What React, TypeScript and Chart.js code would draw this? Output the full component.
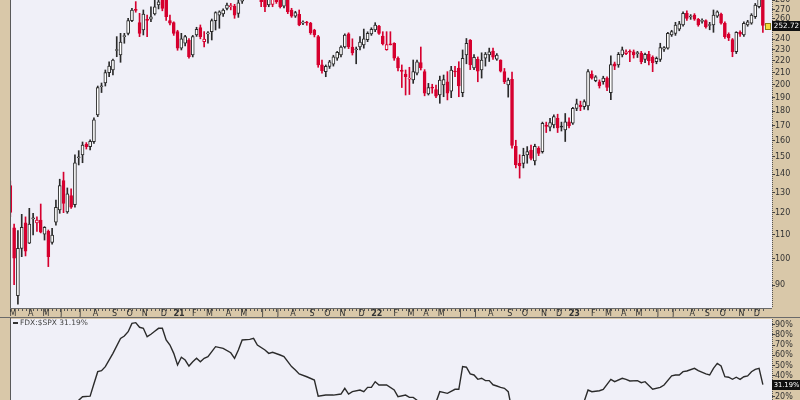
import React, { useEffect, useRef } from "react";
import { Chart, registerables } from "chart.js";

Chart.register(...registerables);

// ---------- data ----------
const FIRST_WEEK_UTC = Date.UTC(2020, 2, 2); // week of 2 Mar 2020

const opens = [
  133.5, 112.9, 86.1, 104.0, 115.1, 106.2, 117.0, 115.1, 116.4, 110.0,
  111.3, 106.5, 115.4, 121.2, 136.2, 120.3, 128.3, 123.8, 149.2, 150.9,
  157.5, 156.0, 159.1, 177.0, 198.0, 201.0, 209.5, 211.7, 228.8, 224.7,
  241.8, 245.0, 257.7, 269.5, 255.6, 248.3, 259.0, 259.1, 264.6, 274.3,
  290.0, 280.0, 257.7, 255.6, 246.6, 230.9, 235.5, 238.6, 224.7, 243.4,
  250.8, 237.0, 244.5, 246.6, 257.7, 263.5, 264.6, 270.7, 272.5, 273.0,
  265.3, 278.5, 289.0, 296.0, 302.0, 298.0, 290.0, 288.0, 274.3, 275.0,
  285.0, 286.0, 273.0, 285.0, 268.9, 262.4, 264.2, 255.2, 256.3, 255.0,
  248.3, 241.8, 216.0, 210.3, 214.8, 216.7, 221.8, 224.7, 232.0, 244.4,
  232.0, 229.5, 232.0, 233.9, 239.0, 244.4, 248.3, 252.2, 242.3, 229.5,
  234.6, 235.5, 221.8, 211.6, 208.3, 204.0, 203.4, 209.0, 218.0, 210.3,
  192.4, 197.8, 195.8, 191.6, 199.4, 202.0, 194.6, 210.8, 213.4, 193.5,
  224.7, 238.6, 213.4, 220.9, 211.7, 221.8, 224.7, 228.3, 221.0, 220.3,
  210.3, 199.4, 204.0, 156.2, 146.0, 145.9, 150.9, 153.9, 147.3, 154.9,
  152.9, 170.0, 168.6, 170.0, 174.6, 169.3, 166.7, 172.2, 171.2, 181.7,
  184.0, 183.0, 183.5, 208.3, 202.8, 202.0, 202.0, 205.0, 193.5, 217.0,
  216.0, 224.7, 226.0, 228.0, 227.7, 226.0, 226.5, 220.9, 225.6, 222.7,
  218.8, 220.9, 230.0, 230.9, 243.4, 245.0, 249.0, 253.3, 265.3, 261.5,
  263.5, 259.1, 257.0, 257.7, 252.8, 253.3, 262.4, 264.6, 255.0, 244.0,
  239.0, 227.7, 246.0, 243.4, 253.3, 255.0, 261.7, 272.4, 287.0,
];

const highs = [
  136.0, 114.6, 111.6, 119.1, 117.9, 122.0, 119.6, 117.9, 124.1, 113.4,
  111.9, 112.6, 126.1, 137.0, 140.9, 132.3, 131.8, 151.0, 153.5, 158.9,
  158.5, 160.2, 175.0, 198.6, 201.0, 211.7, 218.8, 221.0, 241.8, 245.0,
  245.0, 260.1, 270.7, 278.0, 265.3, 268.9, 263.5, 272.4, 282.0, 283.0,
  295.0, 288.0, 263.5, 256.5, 248.0, 245.0, 243.0, 240.0, 243.0, 251.0,
  253.3, 246.6, 246.6, 259.4, 267.0, 268.0, 270.0, 276.5, 276.0, 275.0,
  281.0, 292.0, 300.0, 306.0, 307.0, 303.0, 296.0, 290.0, 288.0, 286.0,
  288.0, 288.0, 285.0, 287.0, 270.7, 267.5, 268.9, 257.5, 257.0, 256.0,
  249.0, 243.0, 220.3, 216.0, 220.0, 224.5, 228.0, 233.0, 244.5, 245.5,
  239.7, 232.0, 241.8, 249.2, 246.5, 250.5, 255.6, 253.0, 246.6, 246.6,
  246.6, 236.0, 223.0, 216.0, 211.7, 214.0, 220.3, 220.3, 232.0, 212.0,
  200.7, 200.0, 199.4, 206.6, 207.5, 210.3, 214.8, 214.8, 218.8, 229.3,
  240.0, 239.0, 225.0, 223.0, 226.7, 227.0, 231.0, 231.0, 226.0, 220.5,
  213.0, 205.0, 210.0, 160.0, 151.0, 155.0, 156.0, 157.0, 157.5, 156.0,
  172.0, 172.0, 174.6, 177.0, 177.5, 172.0, 178.0, 175.0, 182.5, 188.5,
  187.0, 188.0, 212.0, 211.0, 207.0, 203.5, 206.5, 206.0, 224.0, 218.5,
  227.0, 232.0, 229.5, 229.3, 229.3, 228.0, 228.0, 226.5, 228.0, 224.0,
  223.0, 235.5, 232.5, 246.0, 248.0, 256.0, 257.0, 267.0, 268.0, 264.0,
  265.0, 260.0, 259.5, 258.5, 256.0, 268.9, 268.0, 265.5, 256.5, 245.5,
  240.0, 246.6, 247.5, 256.5, 258.0, 265.0, 276.0, 285.0, 290.0,
];

const lows = [
  118.0, 90.0, 83.3, 100.6, 100.9, 106.0, 109.7, 111.3, 110.6, 107.5,
  96.7, 105.8, 114.1, 119.6, 119.9, 119.6, 122.0, 122.6, 145.0, 146.3,
  154.5, 153.9, 158.0, 175.8, 193.5, 198.6, 206.1, 207.5, 223.2, 218.3,
  235.5, 243.4, 256.6, 266.5, 241.8, 243.4, 241.8, 256.6, 263.5, 270.0,
  268.0, 258.0, 253.3, 243.0, 229.0, 229.3, 233.0, 222.0, 223.0, 242.0,
  239.7, 232.0, 235.5, 238.6, 248.3, 250.0, 262.0, 268.9, 269.0, 260.1,
  261.1, 276.0, 286.0, 292.0, 294.0, 289.0, 272.4, 267.0, 272.4, 272.4,
  276.0, 271.0, 271.0, 265.0, 261.1, 261.0, 252.5, 253.5, 253.0, 244.0,
  241.5, 214.0, 209.0, 206.1, 213.0, 215.0, 220.0, 223.0, 231.0, 230.5,
  224.7, 217.0, 229.3, 230.9, 237.0, 243.0, 246.6, 244.0, 233.9, 229.0,
  233.9, 220.0, 211.0, 197.4, 191.6, 192.0, 200.7, 207.5, 211.7, 191.0,
  191.6, 193.0, 189.6, 185.4, 190.3, 187.9, 189.6, 206.1, 190.3, 190.3,
  217.0, 212.0, 212.0, 202.0, 205.0, 215.0, 219.0, 220.8, 220.0, 210.0,
  200.5, 190.0, 155.0, 143.3, 137.6, 143.3, 146.0, 148.0, 145.0, 150.5,
  152.0, 165.0, 166.0, 168.0, 165.0, 166.0, 159.2, 168.0, 170.5, 180.0,
  180.0, 181.0, 180.5, 204.0, 202.0, 197.0, 200.0, 195.0, 188.0, 212.0,
  214.0, 223.0, 225.0, 218.8, 222.0, 222.5, 217.0, 218.0, 216.0, 210.3,
  217.0, 219.0, 228.0, 230.0, 242.0, 243.0, 247.5, 252.0, 258.0, 259.0,
  258.0, 252.0, 255.0, 250.0, 248.5, 246.0, 261.0, 254.0, 240.0, 238.0,
  223.2, 226.0, 242.0, 242.0, 252.0, 254.0, 260.0, 271.0, 246.0,
];

const closes = [
  120.0, 100.0, 104.0, 113.1, 102.8, 114.6, 117.5, 116.4, 110.9, 113.1,
  100.6, 109.7, 122.5, 133.5, 124.4, 129.3, 122.5, 146.3, 149.8, 157.0,
  156.0, 159.3, 173.5, 197.3, 198.6, 209.5, 215.0, 220.3, 229.5, 236.5,
  242.5, 257.7, 268.9, 268.5, 245.0, 264.6, 258.0, 261.7, 272.4, 277.9,
  270.7, 261.7, 255.1, 245.0, 230.9, 239.6, 241.8, 223.2, 241.8, 249.0,
  241.8, 239.5, 245.3, 257.7, 266.0, 267.0, 268.9, 274.3, 273.2, 263.5,
  276.8, 288.0, 296.0, 302.0, 298.0, 292.0, 278.0, 272.4, 284.0, 282.0,
  278.0, 272.4, 283.0, 267.0, 262.4, 266.0, 253.3, 255.9, 255.3, 245.6,
  243.4, 216.0, 211.1, 214.8, 218.8, 223.2, 227.1, 232.0, 243.4, 232.0,
  226.5, 230.2, 236.5, 239.7, 245.0, 249.0, 253.3, 245.0, 234.8, 234.3,
  234.0, 221.8, 213.4, 210.6, 206.1, 205.0, 210.3, 218.8, 213.4, 193.0,
  197.4, 197.0, 190.7, 203.4, 203.8, 193.0, 211.7, 210.0, 198.6, 221.8,
  235.5, 216.0, 222.7, 210.8, 220.3, 225.6, 227.7, 222.7, 224.7, 210.8,
  202.0, 203.4, 156.7, 145.0, 144.5, 150.7, 152.9, 148.9, 156.2, 151.8,
  171.2, 169.0, 171.6, 175.8, 168.0, 168.5, 172.2, 169.4, 181.7, 185.0,
  183.0, 186.6, 210.3, 205.0, 206.1, 198.6, 205.0, 197.4, 216.4, 215.0,
  225.4, 229.3, 227.5, 227.2, 224.7, 226.8, 218.8, 225.4, 219.7, 218.0,
  221.8, 231.4, 231.4, 245.0, 246.6, 253.3, 254.5, 265.3, 260.1, 262.5,
  259.1, 253.3, 258.0, 251.4, 253.5, 263.5, 267.0, 255.0, 241.8, 240.5,
  227.7, 246.0, 244.3, 255.0, 256.6, 263.5, 274.3, 282.0, 252.72,
];

const priceTicks = [90, 100, 110, 120, 130, 140, 150, 160, 170, 180, 190, 200, 210, 220, 230, 240, 250, 260, 270, 280];
const pctTicks = [0, 10, 20, 30, 40, 50, 60, 70, 80, 90];

// FDX:$SPX relative performance (%), by week index
const relWeeks = [
  0, 2, 4, 6, 8, 10, 12, 14, 16, 18, 19, 21, 22, 23, 24, 25, 27, 29, 30, 31,
  32, 33, 34, 35, 36, 37, 38, 39, 40, 41, 42, 43, 44, 45, 46, 47, 48, 49, 50, 51,
  52, 54, 56, 58, 59, 60, 61, 63, 64, 65, 67, 68, 69, 71, 72, 74, 75, 76, 78, 80,
  81, 83, 85, 87, 88, 89, 90, 92, 93, 94, 95, 96, 97, 99, 101, 102, 104, 105, 106, 107,
  108, 110, 112, 113, 115, 117, 118, 119, 120, 121, 122, 123, 124, 125, 126, 127, 128, 129, 130, 131,
  132, 134, 136, 138, 140, 143, 146, 149, 151, 152, 153, 155, 156, 158, 159, 161, 162, 163, 165, 166,
  167, 169, 171, 172, 174, 175, 176, 177, 178, 180, 181, 183, 184, 185, 186, 187, 188, 189, 190, 191,
  192, 193, 194, 195, 196, 197, 198,
];
const relValues = [
  0, -9, -4, -2, -5, -11, -3, 3, 1, 16, 19.4, 20, 32, 43.7, 44.7, 48.6, 61.5, 76, 78.3, 82.5,
  90.6, 91.3, 86.8, 85.8, 77.7, 80, 83, 85.8, 85.8, 74.5, 69.6, 61.5, 50.2, 57.7, 55, 49.2, 53.4, 56.7, 53.4, 56.7,
  58.3, 68, 66.4, 62.1, 56.7, 64.8, 74.5, 75.1, 76.1, 69.6, 64.8, 61.5, 62.5, 59.9, 58.3, 48.6, 45.3, 41.5, 38.8, 35.6,
  20, 21, 21, 22, 27.6, 22, 24.3, 25.9, 24.3, 28.5, 28.5, 34, 30.8, 30.8, 25.9, 19.4, 21, 18.8, 18.8, 16,
  12, 9, 14, 24.3, 22.7, 26.6, 26.6, 48.6, 48, 41.5, 40.5, 36.3, 37.3, 35, 35, 31, 29.8, 28.5, 27.6, 24.3,
  6, 2, 4, 3, 9, 11, 10, 13, 15, 25.9, 24.3, 25.2, 26.6, 36.3, 34, 37.3, 36.3, 34.7, 35, 33,
  34, 26.6, 28.5, 30.8, 39.6, 40.5, 40.5, 43.7, 44.4, 47, 44.7, 41.5, 40.5, 47, 51.8, 49.2, 38.8, 38.3, 36.3, 38.3,
  36.3, 38.8, 39.6, 43.7, 46, 47, 31.19,
];

const LAST_PRICE_TEXT = "252.72";
const LAST_REL_TEXT = "31.19%";
const SERIES_LABEL = "FDX:$SPX 31.19%";

// ---------- styles ----------
const TAN = "#d9c8a9";
const PLOT_BG = "#f0f0f8";
const UP = "#2a2a2a";
const DOWN = "#d6002f";
const TEXT = "#333333";
const FONT = "'DejaVu Sans', sans-serif";
const MONTH_LETTERS = "JFMAMJJASOND";

const X_MIN = 0.18;
const X_MAX = 200.4;

function weekDate(i: number) {
  return new Date(FIRST_WEEK_UTC + i * 7 * 86400000);
}

const monthTicks: { i: number; label: string; year: boolean }[] = [];
for (let i = 0; i < opens.length; i++) {
  const m = weekDate(i).getUTCMonth();
  const pm = i > 0 ? weekDate(i - 1).getUTCMonth() : -1;
  if (m !== pm) {
    const y = weekDate(i).getUTCFullYear() % 100;
    monthTicks.push({ i, label: m === 0 ? String(y).padStart(2, "0") : MONTH_LETTERS[m], year: m === 0 });
  }
}

const candleColor = closes.map((c, i) => (c >= (i > 0 ? closes[i - 1] : opens[0]) ? UP : DOWN));
const candleFill = closes.map((c, i) => (c < opens[i] ? candleColor[i] : "#ffffff"));

function drawBox(ctx: CanvasRenderingContext2D, x: number, yc: number, text: string) {
  const y0 = Math.round(yc) - 5;
  ctx.fillStyle = "#111";
  ctx.fillRect(x, y0, 28, 10);
  ctx.fillStyle = "#ffffff";
  let size = 8;
  ctx.font = `${size}px ${FONT}`;
  while (ctx.measureText(text).width > 26 && size > 5) {
    size -= 0.25;
    ctx.font = `${size}px ${FONT}`;
  }
  ctx.textAlign = "center";
  ctx.textBaseline = "middle";
  ctx.fillText(text, x + 14.5, y0 + 5.5);
}

const topPlugin = {
  id: "topFrame",
  beforeDraw(chart: any) {
    const { ctx, chartArea: a, width, height } = chart;
    ctx.save();
    ctx.fillStyle = TAN;
    ctx.fillRect(0, 0, width, height);
    ctx.fillStyle = PLOT_BG;
    ctx.fillRect(a.left, a.top, a.right - a.left, a.bottom - a.top);
    ctx.restore();
  },
  afterDraw(chart: any) {
    const { ctx, chartArea: a, width, height, scales } = chart;
    const xs = scales.x;
    const ys = scales.y;
    ctx.save();
    // borders
    ctx.fillStyle = "#5a5a5a";
    ctx.fillRect(a.left - 1, 0, 1, a.bottom);
    ctx.strokeStyle = "#555";
    ctx.lineWidth = 1;
    ctx.setLineDash([1, 1]);
    ctx.beginPath();
    ctx.moveTo(a.right + 0.5, 0);
    ctx.lineTo(a.right + 0.5, a.bottom);
    ctx.stroke();
    ctx.setLineDash([]);
    // price labels
    ctx.font = `8px ${FONT}`;
    ctx.textAlign = "left";
    ctx.textBaseline = "middle";
    for (const v of priceTicks) {
      const py = ys.getPixelForValue(v);
      ctx.fillStyle = "#444";
      ctx.fillRect(a.right, Math.round(py), 3, 1);
      ctx.fillStyle = TEXT;
      ctx.fillText(String(v), a.right + 3, py + 0.5);
    }
    // month strip
    const sTop = a.bottom;
    ctx.fillStyle = "#6a6a6a";
    ctx.fillRect(a.left - 1, sTop, a.right - a.left + 1, 1);
    ctx.fillStyle = "#555";
    for (let i = 0; i < opens.length; i++) {
      const px = Math.round(xs.getPixelForValue(i));
      if (px >= a.left && px <= a.right) ctx.fillRect(px, sTop + 1, 1, 2);
    }
    ctx.textAlign = "center";
    ctx.textBaseline = "middle";
    for (const t of monthTicks) {
      const px = xs.getPixelForValue(t.i);
      if (px + 1 < a.left) continue;
      ctx.fillStyle = "#555";
      ctx.fillRect(Math.round(px), sTop + 1, 1, 3);
      ctx.font = t.year ? `bold 8px ${FONT}` : `8px ${FONT}`;
      ctx.fillStyle = TEXT;
      ctx.fillText(t.label, Math.max(px + 1.5, a.left + 2), sTop + 6);
    }
    ctx.fillStyle = "#6a6a6a";
    ctx.fillRect(0, height - 1, width, 1);
    // last price box with marker
    const lp = ys.getPixelForValue(closes[closes.length - 1]);
    ctx.fillStyle = "#f2dc3c";
    ctx.fillRect(a.right - 7, Math.round(lp) - 3, 6, 7);
    ctx.strokeStyle = "#8a7a10";
    ctx.strokeRect(a.right - 6.5, Math.round(lp) - 2.5, 5, 6);
    drawBox(ctx, a.right, lp, LAST_PRICE_TEXT);
    ctx.restore();
  },
};

const bottomPlugin = {
  id: "bottomFrame",
  beforeDraw(chart: any) {
    const { ctx, chartArea: a, width, height } = chart;
    ctx.save();
    ctx.fillStyle = TAN;
    ctx.fillRect(0, 0, width, height);
    ctx.fillStyle = PLOT_BG;
    ctx.fillRect(a.left, a.top, a.right - a.left, a.bottom - a.top);
    ctx.restore();
  },
  afterDraw(chart: any) {
    const { ctx, chartArea: a, scales } = chart;
    const ys = scales.y;
    ctx.save();
    ctx.fillStyle = "#5a5a5a";
    ctx.fillRect(a.left - 1, 0, 1, a.bottom);
    ctx.strokeStyle = "#555";
    ctx.lineWidth = 1;
    ctx.setLineDash([1, 1]);
    ctx.beginPath();
    ctx.moveTo(a.right + 0.5, a.top);
    ctx.lineTo(a.right + 0.5, a.bottom);
    ctx.stroke();
    ctx.setLineDash([]);
    ctx.font = `8px ${FONT}`;
    ctx.textAlign = "left";
    ctx.textBaseline = "middle";
    for (const v of pctTicks) {
      const py = ys.getPixelForValue(v);
      ctx.fillStyle = "#444";
      ctx.fillRect(a.right, Math.round(py), 3, 1);
      ctx.fillStyle = TEXT;
      ctx.fillText(v + "%", a.right + 3, py + 0.5);
    }
    // legend
    ctx.fillStyle = "#333";
    ctx.fillRect(a.left + 2, a.top + 3, 5, 2);
    ctx.font = `7.5px ${FONT}`;
    ctx.fillStyle = "#444";
    ctx.textBaseline = "middle";
    ctx.fillText(SERIES_LABEL, a.left + 9, a.top + 4);
    // last value box
    drawBox(ctx, a.right, ys.getPixelForValue(relValues[relValues.length - 1]), LAST_REL_TEXT);
    ctx.restore();
  },
};

export default function App() {
  const topRef = useRef<HTMLCanvasElement | null>(null);
  const botRef = useRef<HTMLCanvasElement | null>(null);

  useEffect(() => {
    const bodies = opens.map((o, i) => ({ x: i, y: [Math.min(o, closes[i]), Math.max(o, closes[i])] }));
    const wicks = opens.map((_, i) => ({ x: i, y: [lows[i], highs[i]] }));

    const top = new Chart(topRef.current as HTMLCanvasElement, {
      type: "bar",
      data: {
        datasets: [
          {
            data: bodies as any,
            backgroundColor: candleFill,
            borderColor: candleColor,
            borderWidth: 1,
            borderSkipped: false,
            barThickness: 3,
            minBarLength: 1,
            grouped: false,
            order: 0,
          } as any,
          {
            data: wicks as any,
            backgroundColor: candleColor,
            borderWidth: 0,
            barThickness: 1,
            grouped: false,
            order: 1,
          } as any,
        ],
      },
      options: {
        responsive: false,
        animation: false,
        events: [],
        layout: { padding: { left: 11, right: 28, top: 0, bottom: 10 }, autoPadding: false } as any,
        plugins: { legend: { display: false }, tooltip: { enabled: false } },
        scales: {
          x: { type: "linear", min: X_MIN, max: X_MAX, offset: false, display: false },
          y: { type: "logarithmic", min: 82, max: 279.8, display: false },
        },
      },
      plugins: [topPlugin],
    });

    const bottom = new Chart(botRef.current as HTMLCanvasElement, {
      type: "line",
      data: {
        datasets: [
          {
            data: relWeeks.map((w, k) => ({ x: w, y: relValues[k] })),
            borderColor: "#2b2b2b",
            borderWidth: 1.4,
            pointRadius: 0,
            tension: 0,
            fill: false,
          },
        ],
      },
      options: {
        responsive: false,
        animation: false,
        events: [],
        layout: { padding: { left: 11, right: 28, top: 1, bottom: 0 }, autoPadding: false } as any,
        plugins: { legend: { display: false }, tooltip: { enabled: false } },
        scales: {
          x: { type: "linear", min: X_MIN, max: X_MAX, display: false },
          y: { type: "linear", min: -10.97, max: 94.85, display: false },
        },
      },
      plugins: [bottomPlugin],
    });

    return () => {
      top.destroy();
      bottom.destroy();
    };
  }, []);

  return (
    <div style={{ position: "fixed", left: 0, top: 0, width: 800, height: 400, overflow: "hidden", background: TAN }}>
      <canvas ref={topRef} width={800} height={318} style={{ position: "absolute", left: 0, top: 0, width: 800, height: 318 }} />
      <canvas ref={botRef} width={800} height={110} style={{ position: "absolute", left: 0, top: 318, width: 800, height: 110 }} />
    </div>
  );
}
